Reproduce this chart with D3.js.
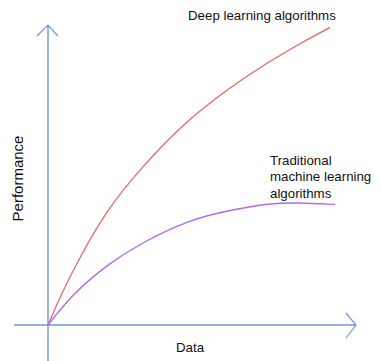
<!DOCTYPE html>
<html>
<head>
<meta charset="utf-8">
<script src="https://cdn.jsdelivr.net/npm/d3@7"></script>
<style>
html,body{margin:0;padding:0;background:#fff;}
svg{display:block;}
text{font-family:"Liberation Sans",Arial,Helvetica,sans-serif;fill:#111;}
</style>
</head>
<body>
<svg id="chart" width="381" height="361"></svg>
<script>
// Data (normalised: x = data amount 0..100, y = performance 0..100)
const deepX = [0, 3.9, 10.4, 19.1, 29.6, 45.2, 64.5, 80.7, 91.6];
const deepY = [0, 9.4, 22.8, 38.3, 51.7, 68.6, 83.3, 93.3, 99.2];
const tradX = [0, 8.2, 19.1, 29.9, 46.1, 59.1, 72.1, 80.7, 93.2];
const tradY = [0, 10.6, 20.0, 27.2, 35.2, 38.3, 40.6, 40.8, 40.2];
const seriesNames = ["Deep learning algorithms", "Traditional machine learning algorithms"];
const axisTitles = ["Data", "Performance"];

const svg = d3.select("#chart");
const x = d3.scaleLinear().domain([0, 100]).range([48, 356]);
const y = d3.scaleLinear().domain([0, 100]).range([325, 25]);

const axisColor = "#7097cc";

// Axes
const g = svg.append("g");
g.append("line").attr("x1", 14).attr("x2", x(100)).attr("y1", y(0)).attr("y2", y(0))
  .attr("stroke", axisColor).attr("stroke-width", 1.4);
g.append("line").attr("x1", x(0)).attr("x2", x(0)).attr("y1", 361).attr("y2", y(100))
  .attr("stroke", axisColor).attr("stroke-width", 1.4);
// arrow heads
g.append("path").attr("d", `M${x(100)-10},${y(0)-12} L${x(100)},${y(0)} L${x(100)-10},${y(0)+13}`)
  .attr("fill", "none").attr("stroke", axisColor).attr("stroke-width", 1.2);
g.append("path").attr("d", `M${x(0)-11},${y(100)+11} L${x(0)},${y(100)} L${x(0)+10},${y(100)+11}`)
  .attr("fill", "none").attr("stroke", axisColor).attr("stroke-width", 1.2);

const line = d3.line().x(d => x(d[0])).y(d => y(d[1])).curve(d3.curveBasis);

svg.append("path").datum(deepX.map((v, i) => [v, deepY[i]]))
  .attr("d", line).attr("fill", "none").attr("stroke", "#ee5f5f").attr("stroke-width", 1.2);
svg.append("path").datum(tradX.map((v, i) => [v, tradY[i]]))
  .attr("d", line).attr("fill", "none").attr("stroke", "#b468ee").attr("stroke-width", 1.4);

// Labels
svg.append("text").attr("x", 188).attr("y", 20).attr("font-size", 13.3).text(seriesNames[0]);
const t = svg.append("text").attr("x", 270).attr("y", 164.5).attr("font-size", 13.3);
["Traditional", "machine learning", "algorithms"].forEach((s, i) => {
  t.append("tspan").attr("x", 270).attr("dy", i === 0 ? 0 : 16.5).text(s);
});
svg.append("text").attr("x", 190).attr("y", 351.5).attr("font-size", 13.3)
  .attr("text-anchor", "middle").text(axisTitles[0]);
svg.append("text").attr("transform", "translate(22.5,178.5) rotate(-90)")
  .attr("font-size", 15).attr("text-anchor", "middle").text(axisTitles[1]);
</script>
</body>
</html>
